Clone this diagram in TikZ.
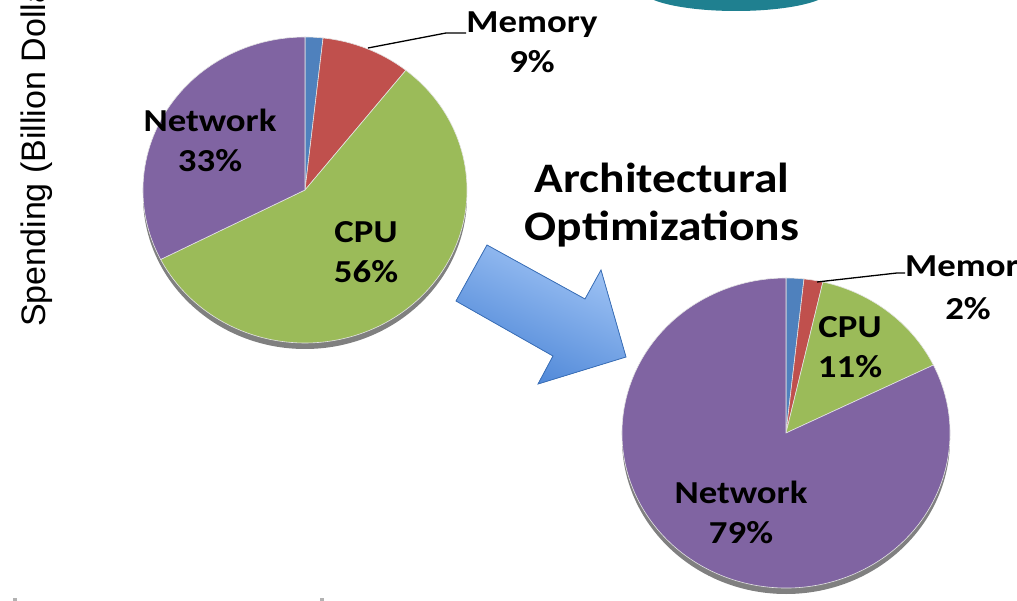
\documentclass[tikz,border=0pt]{standalone}
\usepackage{fontspec}
\setmainfont{Carlito}
\newfontfamily\arialfont{Liberation Sans}
\usetikzlibrary{positioning}
\definecolor{pieblue}{HTML}{4F81BD}
\definecolor{piered}{HTML}{C0504D}
\definecolor{piegreen}{HTML}{9BBB59}
\definecolor{piepurple}{HTML}{8064A2}
\definecolor{tealcap}{HTML}{1F8090}
\definecolor{arrowlight}{HTML}{A3C6F6}
\definecolor{arrowdark}{HTML}{4A84D6}
\definecolor{arrowedge}{HTML}{3A70BA}

\begin{document}
\begin{tikzpicture}[
  x=1pt, y=-1pt,
  every node/.style={align=center,inner sep=0pt},
  pielabel/.style={font=\bfseries\fontsize{32}{40}\selectfont,xscale=1.15},
  slice/.style={draw=white!80!gray,line width=0.6pt},
  pieshadow/.style={fill=black!50},
  leader/.style={draw=black,line width=1.3pt},
  bigtitle/.style={font=\bfseries\fontsize{42}{48}\selectfont,xscale=1.13},
  axislabel/.style={font=\arialfont\fontsize{34}{40}\selectfont,rotate=90,anchor=west}
]
\useasboundingbox (0,0) rectangle (1017,601);

% teal shape cut off at the top
\fill[tealcap] (736,-11) ellipse[x radius=95,y radius=22];

% axis title, cut off at the top
\node[axislabel] (ytitle) at (37,327) {Spending (Billion Dolla};

% small ticks at the bottom
\fill[gray!60] (13,598) rectangle (17,601);
\fill[gray!60] (320,598) rectangle (324,601);

% pie before
\begin{scope}[shift={(305,190)},yscale=-1]
  \fill[pieshadow] (0,-6) ellipse[x radius=162,y radius=153];
  \foreach \a/\b/\c in {90/83.6/pieblue,83.6/51.5/piered,51.5/-153/piegreen,-153/-270/piepurple}
    \filldraw[slice,fill=\c] (0,0) -- (\a:162 and 153) arc[start angle=\a,end angle=\b,x radius=162,y radius=153] -- cycle;
\end{scope}

% pie after
\begin{scope}[shift={(786,433)},yscale=-1]
  \fill[pieshadow] (0,-6) ellipse[x radius=164,y radius=155];
  \foreach \a/\b/\c in {90/83.7/pieblue,83.7/77/piered,77/26/piegreen,26/-270/piepurple}
    \filldraw[slice,fill=\c] (0,0) -- (\a:164 and 155) arc[start angle=\a,end angle=\b,x radius=164,y radius=155] -- cycle;
\end{scope}

% block arrow
\filldraw[draw=arrowedge,line width=0.8pt,top color=arrowlight,bottom color=arrowdark,shading angle=-25]
  (487,245) -- (585,299) -- (601,270) -- (626,357) -- (538,384) -- (553,356) -- (456,301) -- cycle;

\node[pielabel] (net1) at (210,140) {Network\\33\%};
\node[pielabel] (cpu1) at (366,252) {CPU\\56\%};
\node[pielabel] (mem1) at (532,42) {Memory\\9\%};
\node[bigtitle] (title) at (662,205) {Architectural\\Optimizations};
\node[pielabel] (cpu2) at (850,347) {CPU\\11\%};
\node[pielabel] (net2) at (741,512) {Network\\79\%};
\node[pielabel,anchor=west] (mem2) at (905,266) {Memor};
\node[pielabel] (mem2p) at (968,309) {2\%};

\coordinate (memtip1) at (368,48);
\coordinate (memknee1) at (446,33);
\coordinate (memtip2) at (817,282);
\coordinate (memknee2) at (897,273);
\draw[leader] (memtip1) -- (memknee1) -- (mem1.west |- memknee1);
\draw[leader] (memtip2) -- (memknee2) -- (mem2.west |- memknee2);
\end{tikzpicture}
\end{document}
